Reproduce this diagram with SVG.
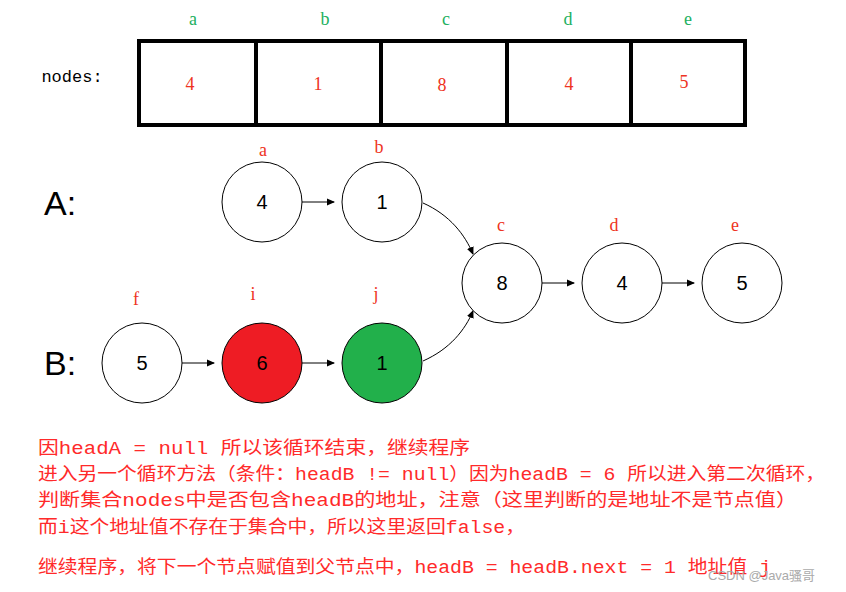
<svg xmlns="http://www.w3.org/2000/svg" width="846" height="592" viewBox="0 0 846 592">
<style>
.lab{font-family:"Liberation Serif","Noto Sans CJK SC",serif;font-size:18px;text-anchor:middle}
.g{fill:#22b060}.r{fill:#ee3322}
.c{stroke:#000;stroke-width:1}
.n{font-family:"Liberation Sans",sans-serif;font-size:20px;text-anchor:middle}
.big{font-family:"Liberation Sans",sans-serif;font-size:34px}
.t{font-family:"Liberation Mono","Noto Sans CJK SC",monospace;font-size:18px;fill:#ff2a2a}
.e{fill:none;stroke:#000;stroke-width:1}
</style>
<defs><marker id="ar" markerWidth="8" markerHeight="8" refX="7" refY="4" orient="auto" markerUnits="userSpaceOnUse"><path d="M0,0.5 L8,4 L0,7.5 Z" fill="#000"/></marker></defs>
<rect width="846" height="592" fill="#fff"/>
<g id="array">
<rect x="139" y="41" width="606" height="84" fill="none" stroke="#000" stroke-width="4"/>
<path d="M256,41V125M381,41V125M507,41V125M631,41V125" stroke="#000" stroke-width="4"/>
<text x="72" y="82" font-family="Liberation Mono,monospace" font-size="17" text-anchor="middle">nodes:</text>
<g class="lab g"><text x="193" y="25">a</text><text x="325" y="25">b</text><text x="446" y="25">c</text><text x="568" y="25">d</text><text x="688" y="25">e</text></g>
<g class="lab r"><text x="190" y="90">4</text><text x="318" y="90">1</text><text x="442" y="91">8</text><text x="569" y="90">4</text><text x="684" y="88">5</text></g>
</g>
<text class="big" x="44" y="215">A:</text>
<text class="big" x="44" y="375">B:</text>
<g id="edges">
<path class="e" d="M302,202H334" marker-end="url(#ar)"/>
<path class="e" d="M423,203C450,215 465,235 473,254" marker-end="url(#ar)"/>
<path class="e" d="M542,283H574" marker-end="url(#ar)"/>
<path class="e" d="M662,283H694" marker-end="url(#ar)"/>
<path class="e" d="M182,363H214" marker-end="url(#ar)"/>
<path class="e" d="M302,363H334" marker-end="url(#ar)"/>
<path class="e" d="M423,361C450,349 465,330 473,311" marker-end="url(#ar)"/>
</g>
<g id="a"><circle cx="262" cy="202" r="40" fill="#fff" class="c"/><text class="n" x="262" y="209">4</text><text class="lab r" x="263" y="156">a</text></g>
<g id="b"><circle cx="382" cy="202" r="40" fill="#fff" class="c"/><text class="n" x="382" y="209">1</text><text class="lab r" x="379" y="153">b</text></g>
<g id="c"><circle cx="502" cy="283" r="40" fill="#fff" class="c"/><text class="n" x="502" y="290">8</text><text class="lab r" x="501" y="231">c</text></g>
<g id="d"><circle cx="622" cy="283" r="40" fill="#fff" class="c"/><text class="n" x="622" y="290">4</text><text class="lab r" x="614" y="231">d</text></g>
<g id="e"><circle cx="742" cy="283" r="40" fill="#fff" class="c"/><text class="n" x="742" y="290">5</text><text class="lab r" x="735" y="231">e</text></g>
<g id="f"><circle cx="142" cy="363" r="40" fill="#fff" class="c"/><text class="n" x="142" y="370">5</text><text class="lab r" x="136" y="305">f</text></g>
<g id="i"><circle cx="262" cy="363" r="40" fill="#ee1c24" class="c"/><text class="n" x="262" y="370">6</text><text class="lab r" x="253" y="300">i</text></g>
<g id="j"><circle cx="382" cy="363" r="40" fill="#22b04b" class="c"/><text class="n" x="382" y="370">1</text><text class="lab r" x="376" y="300">j</text></g>
<g id="notes">
<text class="t" x="38" y="454" textLength="432" lengthAdjust="spacingAndGlyphs">因headA = null 所以该循环结束，继续程序</text>
<text class="t" x="38" y="480" textLength="787" lengthAdjust="spacingAndGlyphs">进入另一个循环方法（条件：headB != null）因为headB = 6 所以进入第二次循环，</text>
<text class="t" x="38" y="506" textLength="759" lengthAdjust="spacingAndGlyphs">判断集合nodes中是否包含headB的地址，注意（这里判断的是地址不是节点值）</text>
<text class="t" x="38" y="533" textLength="487" lengthAdjust="spacingAndGlyphs">而i这个地址值不存在于集合中，所以这里返回false，</text>
<text class="t" x="38" y="573" textLength="733" lengthAdjust="spacingAndGlyphs">继续程序，将下一个节点赋值到父节点中，headB = headB.next = 1 地址值 j</text>
<text x="708" y="580" font-family="Liberation Sans,Noto Sans CJK SC,sans-serif" font-size="13" fill="#aaa">CSDN @Java骚哥</text>
</g>
</svg>
